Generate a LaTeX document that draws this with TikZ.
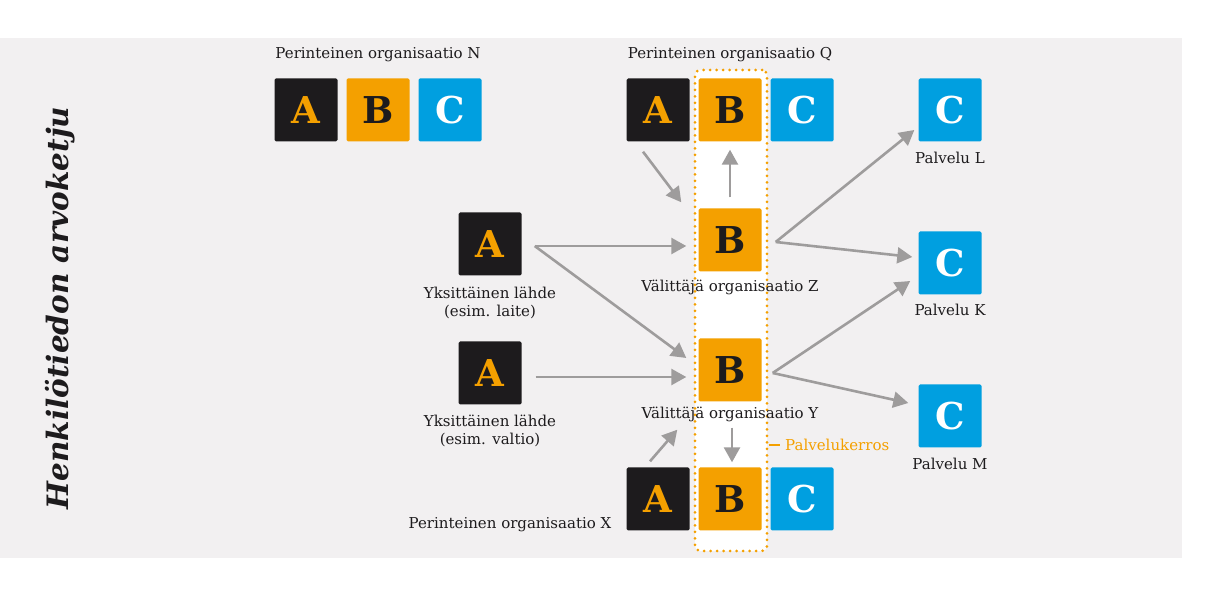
\documentclass[tikz,border=0pt]{standalone}
\usepackage{fontspec}
\setmainfont{DejaVu Serif}
\usepackage{xcolor}
\usetikzlibrary{positioning, arrows.meta}

\definecolor{ink}{HTML}{1D1B1D}
\definecolor{amber}{HTML}{F4A000}
\definecolor{sky}{HTML}{009FE0}
\definecolor{paper}{HTML}{F2F0F1}
\definecolor{flowgray}{HTML}{9E9C9C}

\begin{document}
\begin{tikzpicture}[x=1pt, y=1pt, node distance=72pt, on grid,
    box/.style={minimum size=63pt, inner sep=0pt, rounded corners=1.5pt,
        font=\fontsize{37}{37}\selectfont\bfseries},
    srcbox/.style={box, fill=ink, text=amber},
    midbox/.style={box, fill=amber, text=ink},
    svcbox/.style={box, fill=sky, text=white},
    lbl/.style={font=\fontsize{15}{18}\selectfont, text=ink, align=center, inner sep=1pt},
    flow/.style={draw, color=flowgray, line width=2.6pt, -{Triangle[length=15pt, width=16pt]}},
    layer/.style={draw=amber, fill=white, line width=3pt, line cap=round,
        dash pattern=on 0pt off 6.5pt, rounded corners=5pt,
        minimum width=72pt, minimum height=481pt}]
        \useasboundingbox (0,0) rectangle (1208,600);
        \fill[paper] (0,42) rectangle (1182,562);

        \node[rotate=90, font=\fontsize{29.5}{30}\selectfont\bfseries\itshape, text=ink] (title) at (60,292) {Henkilötiedon arvoketju};

        \node[layer] (tier) at (731,289.5) {};

        \node[srcbox] (na) at (306,490) {A};
        \node[midbox] (nb) [right=of na] {B};
        \node[svcbox] (nc) [right=of nb] {C};
        \node[lbl] (nlbl) [above=55pt of nb] {Perinteinen organisaatio N};

        \node[srcbox] (qa) at (658,490) {A};
        \node[midbox] (qb) [right=of qa] {B};
        \node[svcbox] (qc) [right=of qb] {C};
        \node[lbl] (qlbl) [above=55pt of qb] {Perinteinen organisaatio Q};

        \node[midbox] (z) at (730,360) {B};
        \node[lbl] (zlbl) [below=47pt of z] {Välittäjä organisaatio Z};
        \node[midbox] (y) at (730,230) {B};
        \node[lbl] (ylbl) [below=44pt of y] {Välittäjä organisaatio Y};

        \node[srcbox] (a1) at (490,356) {A};
        \node[lbl] (a1lbl) [below=59pt of a1] {Yksittäinen lähde\\(esim. laite)};
        \node[srcbox] (a2) at (490,227) {A};
        \node[lbl] (a2lbl) [below=58pt of a2] {Yksittäinen lähde\\(esim. valtio)};

        \node[srcbox] (xa) at (658,101) {A};
        \node[midbox] (xb) [right=of xa] {B};
        \node[svcbox] (xc) [right=of xb] {C};
        \node[lbl] (xlbl) [below left=26pt and 148pt of xa] {Perinteinen organisaatio X};

        \node[svcbox] (pl) at (950,490) {C};
        \node[lbl] (pllbl) [below=48pt of pl] {Palvelu L};
        \node[svcbox] (pk) at (950,337) {C};
        \node[lbl] (pklbl) [below=47pt of pk] {Palvelu K};
        \node[svcbox] (pm) at (950,184) {C};
        \node[lbl] (pmlbl) [below=48pt of pm] {Palvelu M};

        \node[lbl, text=amber, anchor=west, inner sep=0pt] (tierlbl) at (785,155) {Palvelukerros};
        \draw[amber, line width=1.3pt] (tier.east |- tierlbl.west) -- ([xshift=-5pt]tierlbl.west);

        \path[every edge/.style={flow}]
        ([shift={(-15,-10)}]qa.south) edge ([shift={(-17,6)}]z.north west)
        ([yshift=11]z.north) edge ([yshift=-8]qb.south)
        ([shift={(13,-2)}]a1.east) edge ([shift={(-12,-6)}]z.west)
        ([shift={(13,-2)}]a1.east) edge ([shift={(-12,12)}]y.west)
        ([shift={(14,-4)}]a2.east) edge ([shift={(-12,-7)}]y.west)
        ([shift={(-8,6)}]xa.north) edge ([shift={(-21,-28)}]y.south west)
        ([shift={(2,-26)}]y.south) edge ([shift={(2,5)}]xb.north)
        ([shift={(14,-2)}]z.east) edge ([shift={(-4,-20)}]pl.west)
        ([shift={(14,-2)}]z.east) edge ([shift={(-6,6)}]pk.west)
        ([shift={(11,-3)}]y.east) edge ([shift={(-8,-18)}]pk.west)
        ([shift={(11,-3)}]y.east) edge ([shift={(-10,13)}]pm.west);
\end{tikzpicture}
\end{document}
